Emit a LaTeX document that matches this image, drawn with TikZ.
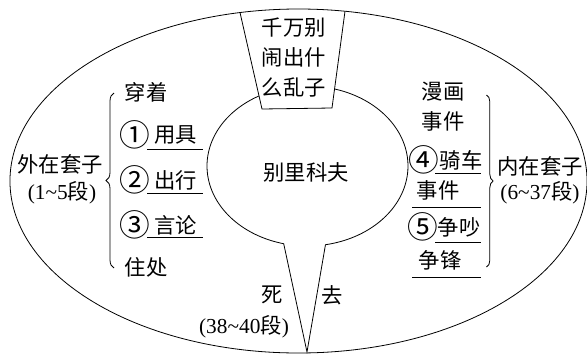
\documentclass[tikz,border=0pt]{standalone}
\usepackage{fontspec}
\setmainfont{Liberation Serif}
\newfontfamily\cjk{Noto Sans CJK SC}
\usetikzlibrary{decorations.pathreplacing}
\newcommand\tl{{\char"7E}}
\tikzset{
  lbl/.style={inner sep=0pt, font=\cjk\fontsize{16pt}{18pt}\selectfont},
  circ/.style={inner sep=0pt, font=\cjk\fontsize{23pt}{25pt}\selectfont},
  num/.style={inner sep=0pt, font=\fontsize{16pt}{18pt}\selectfont},
  shapeline/.style={line width=0.6pt},
  uline/.style={line width=0.75pt},
  bracestyle/.style={line width=0.6pt, decorate, decoration={brace, amplitude=#1}},
}
\begin{document}
\begin{tikzpicture}[x=0.75pt, y=-0.75pt]
\useasboundingbox (0,0) rectangle (587,354);
% speech bubble
\draw[shapeline] plot[domain=103.7:439.7, samples=150, smooth] ({307.5+100.5*cos(\x)},{166+80*sin(\x)}) -- (307,352) -- cycle;
% trapezoid
\draw[shapeline, fill=white] (240,12.5) -- (262,109) -- (332,108) -- (345,11.3);
% outer ellipse
\draw[shapeline] (298.5,181) ellipse [x radius=216.4pt, y radius=129pt];

% trapezoid text
\node[lbl] (q1) at (294,28) {千万别};
\node[lbl] (q2) at (294,57.5) {闹出什};
\node[lbl] (q3) at (294,87) {么乱子};

% centre
\node[lbl] (c) at (306,172) {别里科夫};

% left side
\node[lbl] (l0) at (146,92) {穿着};
\node[circ] (n1) at (134.5,135) {①};
\node[lbl] (l1) at (176,135) {用具};
\node[circ] (n2) at (134.5,180) {②};
\node[lbl] (l2) at (176,180) {出行};
\node[circ] (n3) at (134.5,225) {③};
\node[lbl] (l3) at (176,225) {言论};
\node[lbl] (l4) at (146,267) {住处};
\draw[uline] (147,149) -- (203,149);
\draw[uline] (147,193) -- (203,193);
\draw[uline] (147,237) -- (203,237);
\coordinate (lb1) at (114,268);
\coordinate (lb2) at (114,93);
\draw[bracestyle=6pt] (lb1) -- (lb2);
\node[lbl] (outer) at (60,164) {外在套子};
\node[num] (outerp) at (62,193) {(1\tl5{\cjk 段})};

% right side
\node[lbl] (r0) at (443,92) {漫画};
\node[lbl] (r1) at (443,121) {事件};
\node[circ] (n4) at (424,160) {④};
\node[lbl] (r2) at (461,160) {骑车};
\node[lbl] (r3) at (438,190) {事件};
\node[circ] (n5) at (423,227) {⑤};
\node[lbl] (r4) at (459,227) {争吵};
\node[lbl] (r5) at (440,260) {争锋};
\draw[uline] (435,173) -- (481,173);
\draw[uline] (412,207) -- (481,207);
\draw[uline] (435,242) -- (481,242);
\draw[uline] (412,277) -- (481,277);
\coordinate (rb1) at (486.5,95);
\coordinate (rb2) at (486.5,267);
\draw[bracestyle=5pt] (rb1) -- (rb2);
\node[lbl] (inner) at (540,166) {内在套子};
\node[num] (innerp) at (540,193) {(6\tl37{\cjk 段})};

% bottom
\node[lbl] (d1) at (272,295) {死};
\node[lbl] (d2) at (332,295) {去};
\node[num] (dp) at (244,327) {(38\tl40{\cjk 段})};
\end{tikzpicture}
\end{document}
